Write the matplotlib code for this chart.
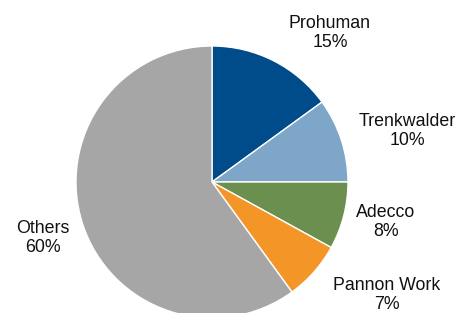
import matplotlib
matplotlib.use("Agg")
import matplotlib.pyplot as plt

# data
companies = ["Prohuman", "Trenkwalder", "Adecco", "Pannon Work", "Others"]
shares = [15, 10, 8, 7, 60]
colors = ["#004C8A", "#7DA6C9", "#6A8F4E", "#F39527", "#A6A6A6"]

# label positions in pixel coords (x, y from top)
label_pos = [(330, 33), (407, 131), (386, 222), (387, 295), (43, 238)]

W, H = 460, 313
fig = plt.figure(figsize=(W / 100, H / 100), dpi=100)
ax = fig.add_axes([0, 0, 1, 1])

ax.pie(shares, colors=colors, startangle=90, counterclock=False,
       center=(212, H - 182), radius=136, frame=True,
       wedgeprops=dict(edgecolor="white", linewidth=1))
ax.set_xlim(0, W)
ax.set_ylim(0, H)
ax.set_aspect("equal")
ax.axis("off")

for name, val, (x, y) in zip(companies, shares, label_pos):
    ax.text(x, H - y, f"{name}\n{val}%", ha="center", va="center",
            fontsize=12.8, family="Liberation Sans", color="#111111", linespacing=1.2)

fig.savefig("out.png", dpi=100)
